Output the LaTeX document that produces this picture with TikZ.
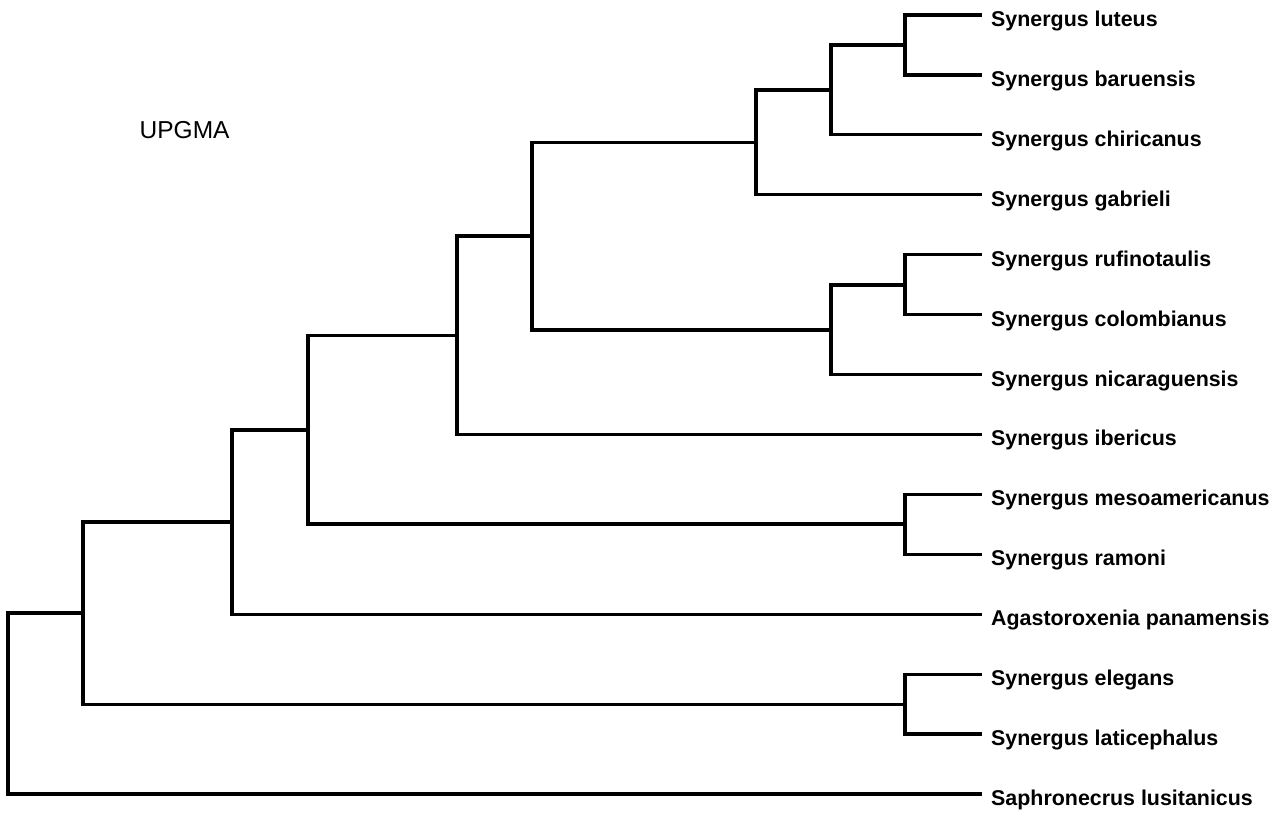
\documentclass[tikz,border=0pt]{standalone}
\usepackage{fontspec}
\setmainfont{Liberation Sans}
\begin{document}
\begin{tikzpicture}[x=1pt,y=-1pt,
  br/.style={line width=3.2pt, line join=miter, line cap=rect},
  lab/.style={anchor=base west, inner sep=0pt, font=\bfseries\fontsize{21.4}{24}\selectfont, xshift=11pt, yshift=-11.5pt}]
\useasboundingbox (0,0) rectangle (1284,812);
% leaf ends
\foreach \i/\n in {0/l1,1/l2,2/l3,3/l4,4/l5,5/l6,6/l7,7/l8,8/l9,9/l10,10/l11,11/l12,12/l13,13/l14}
  \coordinate (\n) at (980, {15+59.92*\i});
% internal nodes
\coordinate (a) at (905, 45);
\coordinate (b) at (831, 90);
\coordinate (c) at (756, 142.5);
\coordinate (d) at (905, 285);
\coordinate (e) at (831, 330);
\coordinate (f) at (532, 236);
\coordinate (g) at (457, 335.5);
\coordinate (h) at (905, 524);
\coordinate (i) at (308, 430);
\coordinate (j) at (232, 522);
\coordinate (k) at (905, 704.5);
\coordinate (m) at (83, 613);
\coordinate (r) at (8, 703);
% branches
\draw[br] (l1) -| (a) |- (l2);
\draw[br] (a) -| (b) |- (l3);
\draw[br] (b) -| (c) |- (l4);
\draw[br] (l5) -| (d) |- (l6);
\draw[br] (d) -| (e) |- (l7);
\draw[br] (c) -| (f) |- (e);
\draw[br] (f) -| (g) |- (l8);
\draw[br] (l9) -| (h) |- (l10);
\draw[br] (g) -| (i) |- (h);
\draw[br] (i) -| (j) |- (l11);
\draw[br] (l12) -| (k) |- (l13);
\draw[br] (j) -| (m) |- (k);
\draw[br] (m) -| (r) |- (l14);
% labels
\node[lab] (t1) at (l1) {Synergus luteus};
\node[lab] (t2) at (l2) {Synergus baruensis};
\node[lab] (t3) at (l3) {Synergus chiricanus};
\node[lab] (t4) at (l4) {Synergus gabrieli};
\node[lab] (t5) at (l5) {Synergus rufinotaulis};
\node[lab] (t6) at (l6) {Synergus colombianus};
\node[lab] (t7) at (l7) {Synergus nicaraguensis};
\node[lab] (t8) at (l8) {Synergus ibericus};
\node[lab] (t9) at (l9) {Synergus mesoamericanus};
\node[lab] (t10) at (l10) {Synergus ramoni};
\node[lab] (t11) at (l11) {Agastoroxenia panamensis};
\node[lab] (t12) at (l12) {Synergus elegans};
\node[lab] (t13) at (l13) {Synergus laticephalus};
\node[lab] (t14) at (l14) {Saphronecrus lusitanicus};
\node[anchor=base west, inner sep=0pt, font=\fontsize{24.5}{27}\selectfont] (title) at (139.5,138.3) {UPGMA};
\end{tikzpicture}
\end{document}
